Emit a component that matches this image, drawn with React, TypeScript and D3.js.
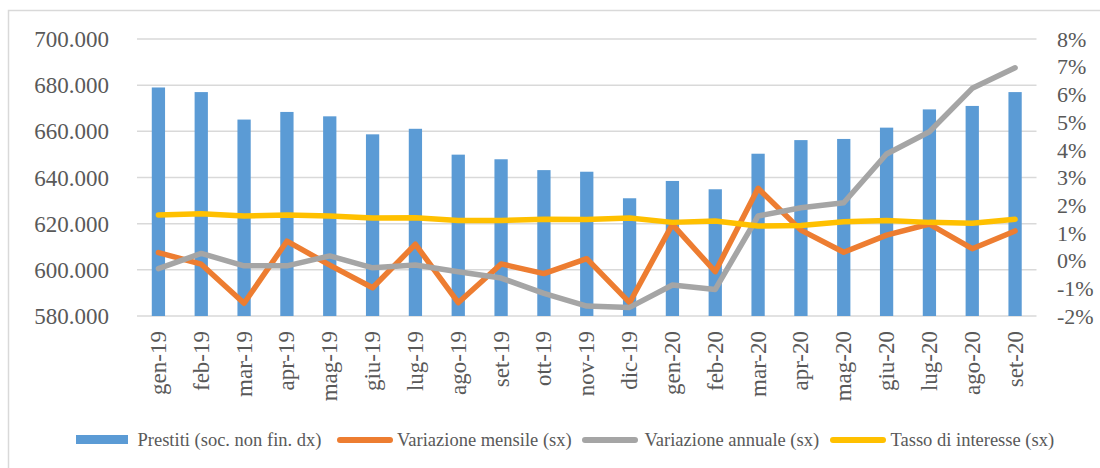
import React from "react";
import * as d3 from "d3";

const categories = [
  "gen-19", "feb-19", "mar-19", "apr-19", "mag-19", "giu-19", "lug-19", "ago-19", "set-19", "ott-19",
  "nov-19", "dic-19", "gen-20", "feb-20", "mar-20", "apr-20", "mag-20", "giu-20", "lug-20", "ago-20", "set-20",
];
const prestiti = [
  679000, 677000, 665100, 668400, 666500, 658700, 661100, 649900, 647900, 643200,
  642500, 631000, 638500, 634900, 650300, 656200, 656700, 661600, 669500, 671000, 677000,
];
const variazioneMensile = [
  0.29, -0.13, -1.54, 0.7, -0.16, -0.98, 0.59, -1.52, -0.12, -0.47,
  0.07, -1.52, 1.31, -0.4, 2.61, 1.1, 0.3, 0.92, 1.32, 0.43, 1.07,
];
const variazioneAnnuale = [
  -0.29, 0.26, -0.19, -0.19, 0.17, -0.26, -0.16, -0.4, -0.63, -1.18,
  -1.64, -1.69, -0.88, -1.04, 1.61, 1.91, 2.09, 3.85, 4.65, 6.22, 6.96,
];
const tassoInteresse = [
  1.65, 1.69, 1.61, 1.65, 1.61, 1.54, 1.55, 1.45, 1.45, 1.49,
  1.48, 1.54, 1.38, 1.43, 1.25, 1.27, 1.4, 1.45, 1.38, 1.35, 1.49,
];
const leftTicks = [580000, 600000, 620000, 640000, 660000, 680000, 700000];
const rightTicks = [-2, -1, 0, 1, 2, 3, 4, 5, 6, 7, 8];

const legendItems = [
  { label: "Prestiti (soc. non fin. dx)", color: "#5B9BD5", kind: "bar" },
  { label: "Variazione mensile (sx)", color: "#ED7D31", kind: "line" },
  { label: "Variazione annuale (sx)", color: "#A5A5A5", kind: "line" },
  { label: "Tasso di interesse (sx)", color: "#FFC000", kind: "line" },
];

const itLocale = d3.formatLocale({ decimal: ",", thousands: ".", grouping: [3], currency: ["€", ""] });
const fmtThousands = itLocale.format(",.0f");

export default function App() {
  const W = 1100, H = 468;
  const left = 137, right = 1036.5, top = 39, bottom = 316;
  const font = "'Liberation Serif', 'Times New Roman', serif";
  const textColor = "#595959";

  const x = d3.scaleBand<string>().domain(categories).range([left, right]).paddingInner(0.69).paddingOuter(0.345);
  const yL = d3.scaleLinear().domain([580000, 700000]).range([bottom, top]);
  const yR = d3.scaleLinear().domain([-2, 8]).range([bottom, top]);
  const cx = (c: string) => (x(c) as number) + x.bandwidth() / 2;

  const line = d3.line<number>()
    .x((_, i) => cx(categories[i]))
    .y((d) => yR(d));

  const series = [
    { data: variazioneMensile, color: "#ED7D31" },
    { data: variazioneAnnuale, color: "#A5A5A5" },
    { data: tassoInteresse, color: "#FFC000" },
  ];

  const legendX = [
    { mark: 76, text: 137.5 },
    { mark: 340, text: 397 },
    { mark: 585, text: 644.5 },
    { mark: 833, text: 890.5 },
  ];

  return (
    <svg width={W} height={H} style={{ position: "absolute", left: 0, top: 0, display: "block", background: "#fff" }}>
      <rect x={8.5} y={10.5} width={1100} height={480} fill="#fff" stroke="#D9D9D9" strokeWidth={1.5} />
      {leftTicks.map((t) => (
        <line key={"g" + t} x1={left} x2={right} y1={yL(t)} y2={yL(t)} stroke="#D9D9D9" strokeWidth={1.5} />
      ))}
      {leftTicks.map((t) => (
        <text key={"l" + t} x={109} y={yL(t)} dy="0.35em" textAnchor="end" fontFamily={font} fontSize={23} fill={textColor}>
          {fmtThousands(t)}
        </text>
      ))}
      {rightTicks.map((t) => (
        <text key={"r" + t} x={1057} y={yR(t)} dy="0.35em" textAnchor="start" fontFamily={font} fontSize={22} fill={textColor}>
          {t + "%"}
        </text>
      ))}
      {categories.map((c, i) => (
        <rect key={"b" + c} x={x(c)} y={yL(prestiti[i])} width={x.bandwidth()} height={bottom - yL(prestiti[i])} fill="#5B9BD5" />
      ))}
      {series.map((s, i) => (
        <path key={"s" + i} d={line(s.data) as string} fill="none" stroke={s.color} strokeWidth={5.5} strokeLinejoin="round" strokeLinecap="round" />
      ))}
      {categories.map((c) => (
        <text key={"c" + c} transform={`translate(${cx(c)},331) rotate(-90)`} textAnchor="end" dominantBaseline="central" fontFamily={font} fontSize={23} fill={textColor}>
          {c}
        </text>
      ))}
      {legendItems.map((it, i) => (
        <g key={"lg" + i}>
          {it.kind === "bar" ? (
            <rect x={legendX[i].mark} y={435} width={52} height={9} fill={it.color} />
          ) : (
            <line x1={legendX[i].mark} x2={legendX[i].mark + 50} y1={440} y2={440} stroke={it.color} strokeWidth={6} strokeLinecap="round" />
          )}
          <text x={legendX[i].text} y={446} fontFamily={font} fontSize={18.5} fill={textColor}>
            {it.label}
          </text>
        </g>
      ))}
    </svg>
  );
}
